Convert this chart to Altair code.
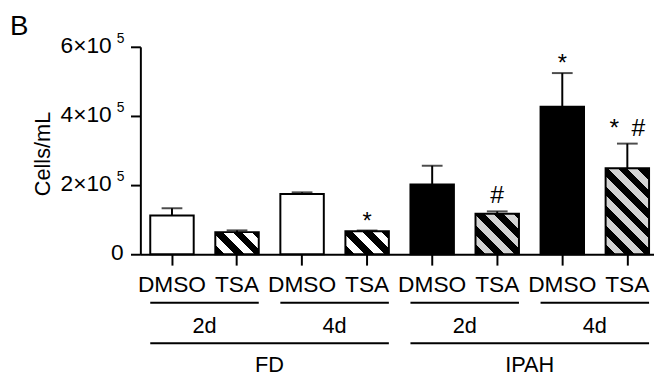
import altair as alt
import pandas as pd

# ---- data ----
conditions = ["FD", "FD", "FD", "FD", "IPAH", "IPAH", "IPAH", "IPAH"]
days = ["2d", "2d", "4d", "4d", "2d", "2d", "4d", "4d"]
treatments = ["DMSO", "TSA", "DMSO", "TSA", "DMSO", "TSA", "DMSO", "TSA"]
cells = [112000, 64000, 174000, 66600, 202000, 117000, 427000, 249000]
sem = [21000, 5000, 5000, 2000, 54000, 7000, 97000, 71000]
signif = ["", "", "", "*", "", "#", "*", "*\u2002#"]
y_ticks = [0, 200000, 400000, 600000]

day_labels = ["2d", "4d", "2d", "4d"]
cond_labels = ["FD", "IPAH"]

ids = [f"{c}|{d}|{t}" for c, d, t in zip(conditions, days, treatments)]
df = pd.DataFrame({
    "id": ids, "condition": conditions, "day": days, "treatment": treatments,
    "cells": cells, "sem": sem, "signif": signif,
})
df["top"] = df["cells"] + df["sem"]

# group brackets: "id" = first bar of the group, "end" = last bar
day_df = pd.DataFrame({"label": day_labels, "id": ids[0::2], "end": ids[1::2]})
cond_df = pd.DataFrame({"label": cond_labels, "id": [ids[0], ids[4]], "end": [ids[3], ids[7]]})
cond_txt_df = pd.DataFrame({"label": cond_labels, "id": [ids[1], ids[5]]})
tick_df = pd.DataFrame({"v": y_ticks})

# ---- layout / style ----
W, H = 520, 210
P_IN, P_OUT, ALIGN = 0.332, 0.114, 0.667
step = W / (len(ids) - P_IN + 2 * P_OUT)
bar_w = step * (1 - P_IN)
YMAX = 600000
FONT = "Liberation Sans"

xscale = alt.Scale(domain=ids, paddingInner=P_IN, paddingOuter=P_OUT, align=ALIGN)
yscale = alt.Scale(domain=[0, YMAX], nice=False)

xaxis = alt.Axis(title=None, labelExpr="split(datum.label, '|')[2]",
                 labelFontSize=23, labelPadding=9, tickSize=11, labelAngle=0,
                 labelOverlap=False, labelLimit=0, domainWidth=2, tickWidth=2)
yaxis = alt.Axis(title="Cells/mL", values=y_ticks, labels=False,
                 tickSize=10, domainWidth=2, tickWidth=2, grid=False,
                 titleFontSize=22, titleFontWeight="normal", titleAngle=270,
                 titleX=-92, titleY=108, titleAlign="center",
                 titleBaseline="alphabetic")


def X(bp=None):
    if bp is None:
        return alt.X("id:N", scale=xscale, axis=xaxis, sort=ids)
    return alt.X("id:N", scale=xscale, axis=xaxis, sort=ids, bandPosition=bp)


def Y(field):
    return alt.Y(field, scale=yscale, axis=yaxis)


base = alt.Chart(df)

plain = base.transform_filter(alt.datum.treatment == "DMSO").mark_bar(
    stroke="black", strokeWidth=2
).encode(
    x=X(), y=Y("cells:Q"),
    fill=alt.Fill("condition:N", scale=alt.Scale(domain=["FD", "IPAH"], range=["white", "black"]),
                  legend=None),
)


def hatch(w, h, dark, light, period=14.0, frac=0.5):
    span = w + h
    d = period * 2 ** 0.5 / span
    stops = []
    k = 0
    while k * d < 1:
        a = k * d
        b = min((k + frac) * d, 1.0)
        c = min((k + 1) * d, 1.0)
        stops += [alt.GradientStop(offset=a, color=dark), alt.GradientStop(offset=b, color=dark)]
        if b < 1:
            stops += [alt.GradientStop(offset=b, color=light), alt.GradientStop(offset=c, color=light)]
        k += 1
    cx = w * (w + h) / (w * w + h * h)
    return alt.LinearGradient(gradient="linear", stops=stops,
                              x1=0, y1=1, x2=cx, y2=1 - cx * h / w)


hatched = []
for i, t in enumerate(treatments):
    if t != "TSA":
        continue
    h = cells[i] * H / YMAX
    light = "white" if conditions[i] == "FD" else "#d3d3d3"
    hatched.append(
        base.transform_filter(alt.datum.id == ids[i]).mark_bar(
            fill=hatch(bar_w, h, "black", light), stroke="black", strokeWidth=2
        ).encode(x=X(), y=Y("cells:Q"))
    )

err_line = base.mark_rule(color="black", strokeWidth=2).encode(
    x=X(), y=Y("cells:Q"), y2="top:Q")
err_cap = base.mark_tick(color="black", thickness=2, size=21).encode(
    x=X(), y=Y("top:Q"))

star = base.transform_filter(alt.datum.signif == "*").mark_text(
    fontSize=24, baseline="alphabetic", dy=-2, color="black"
).encode(x=X(), y=Y("top:Q"), text="signif:N")
hashm = base.transform_filter("indexof(datum.signif, '#') >= 0").mark_text(
    fontSize=25, baseline="alphabetic", dy=-8, color="black"
).encode(x=X(), y=Y("top:Q"), text="signif:N")

# y tick labels: mantissa x 10 with a raised exponent
ylab_main = alt.Chart(tick_df).transform_filter("datum.v > 0").transform_calculate(
    t="format(datum.v / 100000, 'd') + '\u00d710'"
).mark_text(fontSize=23, align="right", baseline="middle", dy=-1, color="black").encode(
    x=alt.value(-29), y=Y("v:Q"), text="t:N")
ylab_zero = alt.Chart(tick_df).transform_filter("datum.v == 0").transform_calculate(
    t="'0'"
).mark_text(fontSize=23, align="right", baseline="middle", dy=-1, color="black").encode(
    x=alt.value(-17), y=Y("v:Q"), text="t:N")
ylab_sup = alt.Chart(tick_df).transform_filter("datum.v > 0").transform_calculate(
    t="'5'"
).mark_text(fontSize=14, align="left", baseline="alphabetic", dy=-4, color="black").encode(
    x=alt.value(-24), y=Y("v:Q"), text="t:N")

day_rule = alt.Chart(day_df).mark_rule(color="black", strokeWidth=2).encode(
    x=X(0), x2=alt.X2("end:N", bandPosition=1), y=alt.value(259))
day_text = alt.Chart(day_df).mark_text(fontSize=22, baseline="alphabetic", dx=step / 2,
                                       color="black").encode(
    x=X(), y=alt.value(290), text="label:N")
cond_rule = alt.Chart(cond_df).mark_rule(color="black", strokeWidth=2).encode(
    x=X(0), x2=alt.X2("end:N", bandPosition=1), y=alt.value(300))
cond_text = alt.Chart(cond_txt_df).mark_text(fontSize=22, baseline="alphabetic", dx=step / 2,
                                             color="black").encode(
    x=X(), y=alt.value(329), text="label:N")

panel = alt.Chart(pd.DataFrame({"t": ["B"]})).mark_text(
    fontSize=28, align="left", baseline="alphabetic", color="black"
).encode(x=alt.value(-132), y=alt.value(-12), text="t:N")

chart = alt.layer(
    plain, *hatched, err_line, err_cap, star, hashm, ylab_main, ylab_zero, ylab_sup,
    day_rule, day_text, cond_rule, cond_text, panel
).properties(
    width=W, height=H,
    padding={"left": 134, "top": 37, "right": 0, "bottom": 123},
    autosize=alt.AutoSizeParams(type="none"),
).configure(font=FONT).configure_view(strokeWidth=0).configure_axis(
    domainColor="black", tickColor="black", labelColor="black", titleColor="black",
    labelFont=FONT, titleFont=FONT
)

chart.save("out.html", embed_options={"renderer": "svg", "actions": False})
